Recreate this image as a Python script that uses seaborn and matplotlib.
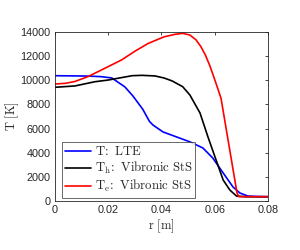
import matplotlib
matplotlib.use("Agg")
import matplotlib.pyplot as plt
import seaborn as sns
import pandas as pd

r_lte = [0, 0.0124, 0.0175, 0.0214, 0.0263, 0.0293, 0.033, 0.0355, 0.0368, 0.0406, 0.0458, 0.0507, 0.0556, 0.0593, 0.0632, 0.0669, 0.0695, 0.0725, 0.0765, 0.08]
T_lte = [10380, 10350, 10300, 10190, 9450, 8700, 7600, 6600, 6300, 5720, 5300, 4900, 4390, 3560, 2320, 1160, 660, 410, 370, 360]

r_th = [0, 0.0075, 0.015, 0.02, 0.025, 0.029, 0.0327, 0.0376, 0.041, 0.044, 0.048, 0.0507, 0.0545, 0.0575, 0.0608, 0.0632, 0.0657, 0.0682, 0.072, 0.08]
T_th = [9420, 9530, 9880, 10020, 10220, 10380, 10410, 10360, 10190, 9950, 9470, 8780, 7290, 5300, 3230, 1740, 910, 410, 350, 350]

r_te = [0, 0.004, 0.0075, 0.0124, 0.0188, 0.025, 0.03, 0.035, 0.041, 0.045, 0.048, 0.0507, 0.053, 0.0548, 0.0565, 0.0582, 0.0598, 0.0612, 0.0624, 0.0684, 0.0691, 0.08]
T_te = [9690, 9750, 9900, 10300, 11000, 11680, 12400, 13050, 13600, 13800, 13890, 13750, 13350, 12800, 12100, 11200, 10200, 9300, 8500, 660, 360, 360]

labels = [r'$\mathrm{T\!:\ LTE}$', r'$\mathrm{T_h\!:\ Vibronic\ StS}$', r'$\mathrm{T_e\!:\ Vibronic\ StS}$']
colors = ['#0000ff', '#000000', '#ff0000']
x_ticks = [0, 0.02, 0.04, 0.06, 0.08]
x_ticklabels = ['0', '0.02', '0.04', '0.06', '0.08']
y_ticks = [0, 2000, 4000, 6000, 8000, 10000, 12000, 14000]

rows = []
for lab, rr, tt in zip(labels, [r_lte, r_th, r_te], [T_lte, T_th, T_te]):
    for a, b in zip(rr, tt):
        rows.append({'r': a, 'T': b, 'series': lab})
df = pd.DataFrame(rows)

sns.set_style('white')
plt.rcParams['mathtext.fontset'] = 'cm'
plt.rcParams['font.family'] = ['Liberation Sans', 'DejaVu Sans']

fig = plt.figure(figsize=(3.0, 2.5), dpi=100)
ax = fig.add_axes([0.183, 0.196, 0.710, 0.676])
sns.lineplot(data=df, x='r', y='T', hue='series', palette=dict(zip(labels, colors)),
             hue_order=labels, sort=False, estimator=None, linewidth=1.2, ax=ax)

ax.set_xlim(0, 0.08)
ax.set_ylim(0, 14000)
ax.set_xticks(x_ticks)
ax.set_xticklabels(x_ticklabels)
ax.set_yticks(y_ticks)
ax.tick_params(direction='in', length=2.5, width=0.6, labelsize=7.8, colors='#262626',
               top=True, right=True, pad=3)
for s in ax.spines.values():
    s.set_color('#262626')
    s.set_linewidth(0.6)
ax.set_xlabel(r'$\mathrm{r\ [m]}$', fontsize=9, labelpad=2)
ax.set_ylabel(r'$\mathrm{T\ [K]}$', fontsize=9, labelpad=0)

leg = ax.legend(loc='lower left', bbox_to_anchor=(0.033, 0.02), fontsize=9.2, frameon=True,
                fancybox=False, edgecolor='#262626', handlelength=2.0, handletextpad=0.3,
                borderpad=0.25, labelspacing=0.15, borderaxespad=0)
leg.get_frame().set_linewidth(0.6)

fig.savefig('out.png', dpi=100)
